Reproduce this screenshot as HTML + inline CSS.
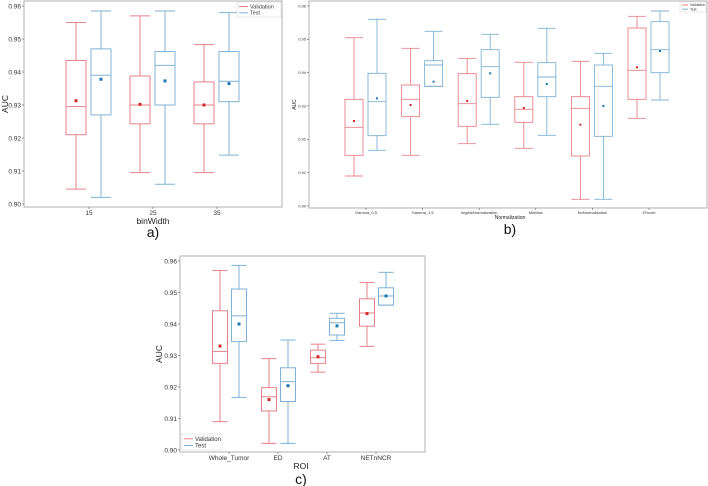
<!DOCTYPE html>
<html><head><meta charset="utf-8"><style>
body{margin:0;background:#fff;width:708px;height:486px;overflow:hidden}
svg{display:block;font-family:"Liberation Sans",sans-serif}
</style></head><body>
<svg id="fig" width="708" height="486" viewBox="0 0 708 486"></svg>
<script>
// ---- Panel a data ----
const aCats=["15","25","35"];
const aValLo=[0.9045,0.9095,0.9095], aValQ1=[0.921,0.9243,0.9243], aValMed=[0.9295,0.930,0.930], aValQ3=[0.9435,0.9388,0.937], aValHi=[0.955,0.957,0.9483], aValMean=[0.9313,0.9302,0.930];
const aTestLo=[0.902,0.906,0.9148], aTestQ1=[0.927,0.930,0.931], aTestMed=[0.939,0.942,0.9372], aTestQ3=[0.947,0.9462,0.9462], aTestHi=[0.9585,0.9585,0.958], aTestMean=[0.9378,0.9373,0.9365];
// ---- Panel b data ----
const bCats=["Gamma_0.5","Gamma_1.5","ImgMeNormalization","MinMax","NoNormalization","ZScore"];
const bValLo=[0.909,0.9152,0.9187,0.9173,0.902,0.9263], bValQ1=[0.9152,0.9268,0.9239,0.9251,0.915,0.932], bValMed=[0.9236,0.932,0.9307,0.929,0.9293,0.9407], bValQ3=[0.932,0.9363,0.9397,0.9328,0.9328,0.9534], bValHi=[0.9505,0.9473,0.9443,0.9431,0.9434,0.9569], bValMean=[0.9255,0.9303,0.9315,0.9294,0.9244,0.9416];
const bTestLo=[0.9167,0.9359,0.9245,0.9212,0.902,0.9318], bTestQ1=[0.9211,0.9359,0.9326,0.9328,0.9209,0.94], bTestMed=[0.9313,0.9423,0.9418,0.9387,0.9359,0.9469], bTestQ3=[0.9398,0.9436,0.9469,0.943,0.9423,0.9553], bTestHi=[0.956,0.9524,0.9515,0.9533,0.9458,0.9585], bTestMean=[0.9323,0.9373,0.9398,0.9366,0.930,0.9465];
// ---- Panel c data ----
const cCats=["Whole_Tumor","ED","AT","NETnNCR"];
const cValLo=[0.909,0.9021,0.9247,0.9329], cValQ1=[0.9275,0.9124,0.9275,0.9393], cValMed=[0.9313,0.9169,0.9293,0.9435], cValQ3=[0.9442,0.9198,0.9317,0.948], cValHi=[0.957,0.929,0.9336,0.9532], cValMean=[0.933,0.916,0.9296,0.9433];
const cTestLo=[0.9167,0.9021,0.9348,0.946], cTestQ1=[0.9344,0.9154,0.9365,0.946], cTestMed=[0.9426,0.9217,0.9404,0.9489], cTestQ3=[0.9511,0.9261,0.9418,0.9515], cTestHi=[0.9586,0.9349,0.9434,0.9564], cTestMean=[0.940,0.9204,0.9394,0.9489];
const yTicks=[0.90,0.91,0.92,0.93,0.94,0.95,0.96];

const NS="http://www.w3.org/2000/svg", svg=document.getElementById('fig');
function mk(tag,attrs,parent,text){const e=document.createElementNS(NS,tag);for(const k in attrs)e.setAttribute(k,attrs[k]);if(text!==undefined)e.textContent=text;(parent||svg).appendChild(e);return e;}
const RED="#e8828a",BLUE="#7fb2d6",RDOT="#d62728",BDOT="#1f77b4";

function panel(P){
  const g=mk('g',{});
  
  
  const y=v=>P.y0+(0.96-v)/0.06*(P.y1-P.y0);
  const x=i=>P.cx0+i*P.step;
  const fr=mk('rect',{x:P.fx0,y:P.fy0,width:P.fx1-P.fx0,height:P.fy1-P.fy0,fill:'none',stroke:'#bdbdbd','stroke-width':1.2},g);
  
  
  yTicks.forEach(t=>{
    const yy=y(t);
    mk('line',{x1:P.fx0-2,x2:P.fx0,y1:yy,y2:yy,stroke:'#555','stroke-width':0.6},g);
    const tl=mk('text',{x:P.fx0-3,y:yy+P.tf*0.35,'font-size':P.tf,'text-anchor':'end',fill:'#333'},g,t.toFixed(2));
    
    
  });
  function box(i,off,lo,q1,md,q3,hi,mn,col,dot,sname){
    const bg=mk('g',{},g);
    
    
    const c=x(i)+off,w=P.bw,cw=w*0.5;
    const sw=P.sw;
    mk('line',{x1:c,x2:c,y1:y(hi),y2:y(q3),stroke:col,'stroke-width':sw},bg);
    mk('line',{x1:c,x2:c,y1:y(q1),y2:y(lo),stroke:col,'stroke-width':sw},bg);
    mk('line',{x1:c-cw,x2:c+cw,y1:y(hi),y2:y(hi),stroke:col,'stroke-width':sw},bg);
    mk('line',{x1:c-cw,x2:c+cw,y1:y(lo),y2:y(lo),stroke:col,'stroke-width':sw},bg);
    mk('rect',{x:c-w/2,y:y(q3),width:w,height:Math.max(0.5,y(q1)-y(q3)),fill:'none',stroke:col,'stroke-width':sw},bg);
    mk('line',{x1:c-w/2,x2:c+w/2,y1:y(md),y2:y(md),stroke:col,'stroke-width':sw},bg);
    mk('rect',{x:c-P.ds/2,y:y(mn)-P.ds/2,width:P.ds,height:P.ds,fill:dot},bg);
  }
  P.cats.forEach((cat,i)=>{
    box(i,P.vo,P.v[0][i],P.v[1][i],P.v[2][i],P.v[3][i],P.v[4][i],P.v[5][i],RED,RDOT,'validation');
    box(i,P.to,P.t[0][i],P.t[1][i],P.t[2][i],P.t[3][i],P.t[4][i],P.t[5][i],BLUE,BDOT,'test');
    mk('line',{x1:x(i),x2:x(i),y1:P.fy1,y2:P.fy1+2,stroke:'#555','stroke-width':0.6},g);
    const xl=mk('text',{x:x(i),y:P.fy1+P.xto,'font-size':P.tf,'text-anchor':'middle',fill:'#333'},g,cat);
    
    
  });
  const yl=mk('text',{x:P.ylx,y:(P.fy0+P.fy1)/2,'font-size':P.lf,'text-anchor':'middle',fill:'#222',transform:`rotate(-90 ${P.ylx} ${(P.fy0+P.fy1)/2})`},g,'AUC');
  
  
  const xt=mk('text',{x:P.xlx,y:P.xly,'font-size':P.lf,'text-anchor':'middle',fill:'#222'},g,P.xlabel);
  
  
  const pl=mk('text',{x:P.xlx,y:P.ply,'font-size':14,'text-anchor':'middle',fill:'#111'},g,P.plabel);
  
  
  const L=P.leg, lg=mk('g',{},g);
  
  
  mk('rect',{x:L.x,y:L.y,width:L.w,height:L.h,fill:'#fff',stroke:'#ddd','stroke-width':0.6},lg);
  [['Validation',RED],['Test',BLUE]].forEach((e,k)=>{
    const yy=L.y+L.h*0.3+k*L.h*0.42;
    const le=mk('g',{},lg);
    
    
    mk('line',{x1:L.x+2,x2:L.x+2+L.lw,y1:yy,y2:yy,stroke:e[1],'stroke-width':1},le);
    mk('text',{x:L.x+4+L.lw,y:yy+L.f*0.35,'font-size':L.f,fill:'#333'},le,e[0]);
  });
}
panel({name:'panel-a',cats:aCats,fx0:24,fx1:282,fy0:1,fy1:207,y0:6,y1:204,cx0:89,step:64,bw:20,vo:-13,to:12,sw:1,ds:3,tf:6.5,lf:8.5,xto:8,
  v:[aValLo,aValQ1,aValMed,aValQ3,aValHi,aValMean],t:[aTestLo,aTestQ1,aTestMed,aTestQ3,aTestHi,aTestMean],
  ylx:8,xlx:153,xly:224,xlabel:'binWidth',ply:237,plabel:'a)',leg:{x:237,y:2,w:44,h:15,lw:9,f:5.5}});
panel({name:'panel-b',cats:bCats,fx0:309,fx1:707,fy0:1,fy1:208,y0:6,y1:206,cx0:366,step:56.6,bw:18,vo:-12,to:11,sw:0.9,ds:2,tf:4,lf:5,xto:6,
  v:[bValLo,bValQ1,bValMed,bValQ3,bValHi,bValMean],t:[bTestLo,bTestQ1,bTestMed,bTestQ3,bTestHi,bTestMean],
  ylx:296,xlx:510,xly:219,xlabel:'Normalization',ply:234,plabel:'b)',leg:{x:680,y:2,w:26,h:10,lw:6,f:3.5}});
panel({name:'panel-c',cats:cCats,fx0:180,fx1:425,fy0:256,fy1:452,y0:261,y1:450,cx0:229,step:49,bw:15,vo:-9,to:10,sw:1,ds:3,tf:6.5,lf:8.5,xto:8,
  v:[cValLo,cValQ1,cValMed,cValQ3,cValHi,cValMean],t:[cTestLo,cTestQ1,cTestMed,cTestQ3,cTestHi,cTestMean],
  ylx:162,xlx:301,xly:469,xlabel:'ROI',ply:484,plabel:'c)',leg:{x:182,y:434,w:40,h:16,lw:9,f:6}});
</script>
</body></html>
